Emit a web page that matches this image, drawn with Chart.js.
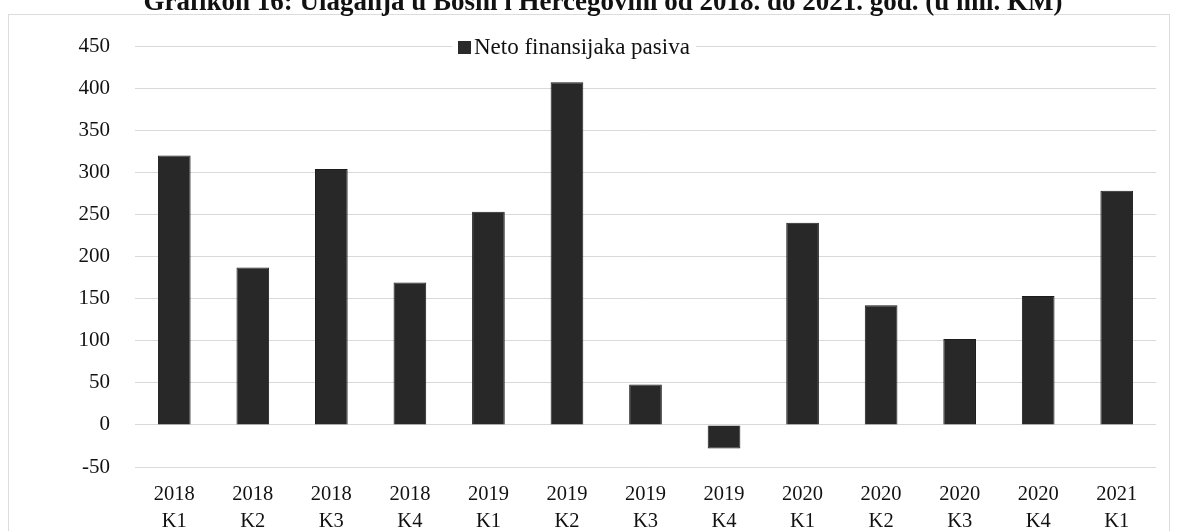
<!DOCTYPE html>
<html>
<head>
<meta charset="utf-8">
<script src="https://cdn.jsdelivr.net/npm/chart.js@4"></script>
<style>
html,body{margin:0;padding:0;background:#fff;}
#wrap{position:relative;width:1178px;height:531px;}
</style>
</head>
<body>
<div id="wrap"><canvas id="c" width="1178" height="531"></canvas></div>
<script>
const titleText = 'Grafikon 16: Ulaganja u Bosni i Hercegovini od 2018. do 2021. god. (u mil. KM)';
const seriesName = 'Neto finansijaka pasiva';
const years = ['2018','2018','2018','2018','2019','2019','2019','2019','2020','2020','2020','2020','2021'];
const quarters = ['K1','K2','K3','K4','K1','K2','K3','K4','K1','K2','K3','K4','K1'];
const values = [320, 187, 304, 169, 253, 407, 48, -28, 240, 142, 102, 153, 278];
const yTicks = [-50, 0, 50, 100, 150, 200, 250, 300, 350, 400, 450];

const labels = years.map((y, i) => [y, quarters[i]]);
const FONT = '"Liberation Serif", "Times New Roman", serif';

const decor = {
  id: 'decor',
  beforeDraw(chart) {
    const ctx = chart.ctx;
    ctx.save();
    ctx.fillStyle = '#fff';
    ctx.fillRect(0, 0, chart.width, chart.height);
    ctx.strokeStyle = '#dcdcdc';
    ctx.lineWidth = 1;
    ctx.strokeRect(8.5, 14.5, 1161, 530);
    ctx.restore();
  },
  afterDraw(chart) {
    const ctx = chart.ctx;
    ctx.save();
    // title (clipped at the top like the reference)
    ctx.fillStyle = '#111';
    ctx.font = 'bold 27px ' + FONT;
    ctx.textAlign = 'center';
    ctx.textBaseline = 'alphabetic';
    ctx.fillText(titleText, 603, 10);
    // legend
    ctx.font = '23px ' + FONT;
    const tw = ctx.measureText(seriesName).width;
    ctx.fillStyle = '#fff';
    ctx.fillRect(452, 35, tw + 28, 26);
    ctx.fillStyle = '#2a2a2a';
    ctx.fillRect(458, 41, 13, 13);
    ctx.fillStyle = '#111';
    ctx.textAlign = 'left';
    ctx.textBaseline = 'middle';
    ctx.fillText(seriesName, 474, 48);
    ctx.restore();
  }
};

new Chart(document.getElementById('c'), {
  type: 'bar',
  data: {
    labels: labels,
    datasets: [{
      label: seriesName,
      data: values,
      backgroundColor: '#282828',
      borderColor: '#1c1c1c',
      borderWidth: 1,
      barPercentage: 0.52,
      categoryPercentage: 0.8
    }]
  },
  options: {
    responsive: false,
    animation: false,
    layout: { padding: { top: 46, right: 22, bottom: 0, left: 0 } },
    plugins: {
      legend: { display: false },
      title: { display: false },
      tooltip: { enabled: false }
    },
    scales: {
      x: {
        grid: { display: false, drawTicks: false },
        border: { display: false },
        ticks: {
          color: '#111',
          font: { family: FONT, size: 20.5, lineHeight: 1.32 },
          padding: 14,
          maxRotation: 0,
          autoSkip: false
        },
        afterFit(s) { s.height = 64; }
      },
      y: {
        min: -50,
        max: 450,
        afterBuildTicks(s) { s.ticks = yTicks.map(v => ({ value: v })); },
        grid: { color: '#d9d9d9', lineWidth: 1, drawTicks: false },
        border: { display: false },
        ticks: {
          color: '#111',
          font: { family: FONT, size: 21 },
          padding: 25
        },
        afterFit(s) { s.width = 135; }
      }
    }
  },
  plugins: [decor]
});
</script>
</body>
</html>
